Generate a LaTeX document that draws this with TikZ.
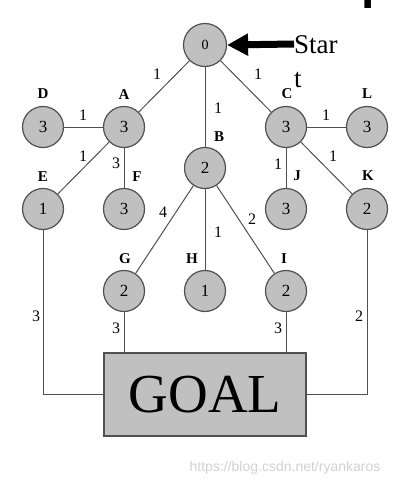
\documentclass[tikz,border=0pt]{standalone}
\usepackage{fontspec}
\setmainfont{Liberation Serif}
\newfontfamily\wmfont{Liberation Sans}
\usetikzlibrary{arrows.meta}
\definecolor{nodefill}{HTML}{C0C0C0}
\definecolor{edgecol}{HTML}{505050}
\begin{document}
\begin{tikzpicture}[x=1pt,y=-1pt,
  state/.style={circle,draw=edgecol,line width=1.2pt,fill=nodefill,minimum size=41pt,inner sep=0pt,font=\fontsize{17}{17}\selectfont},
  startstate/.style={state,minimum size=43pt,font=\fontsize{14}{14}\selectfont},
  lbl/.style={font=\fontsize{15}{15}\selectfont\bfseries,inner sep=0pt},
  wt/.style={font=\fontsize{16}{16}\selectfont,inner sep=0pt},
  edge/.style={draw=edgecol,line width=1pt},
  goalbox/.style={draw=edgecol,line width=1.3pt,fill=nodefill,minimum width=202pt,minimum height=83pt,inner sep=0pt,font=\fontsize{55}{55}\selectfont}]
\useasboundingbox (0,0) rectangle (401,487);
% cut-off title
\begin{scope}
\clip (0,0) rectangle (401,12);
\node[anchor=base west,inner sep=0pt,font=\wmfont\fontsize{48}{48}\selectfont\bfseries] (title) at (127,-1) {Two Example};
\end{scope}
% nodes
\node[startstate] (S) at (205,45) {0};
\node[state] (A) at (124,127) {3};
\node[state] (D) at (43,127) {3};
\node[state] (C) at (286,127) {3};
\node[state] (L) at (367,127) {3};
\node[state] (B) at (205,168) {2};
\node[state] (E) at (43,209) {1};
\node[state] (F) at (124,209) {3};
\node[state] (J) at (286,209) {3};
\node[state] (K) at (367,209) {2};
\node[state] (G) at (124,291) {2};
\node[state] (H) at (205,291) {1};
\node[state] (I) at (286,291) {2};
\node[goalbox] (goal) at (205,394.5) {GOAL};
% letters
\node[lbl] (lD) at (43,94) {D};
\node[lbl] (lA) at (124,95) {A};
\node[lbl] (lC) at (287,94) {C};
\node[lbl] (lL) at (367,94) {L};
\node[lbl] (lB) at (219,137) {B};
\node[lbl] (lE) at (43,177) {E};
\node[lbl] (lF) at (137,177) {F};
\node[lbl] (lJ) at (297,176) {J};
\node[lbl] (lK) at (368,176) {K};
\node[lbl] (lG) at (125,259) {G};
\node[lbl] (lH) at (192,259) {H};
\node[lbl] (lI) at (284,259) {I};
% edges
\draw[edge] (S) -- (A);
\draw[edge] (S) -- (B);
\draw[edge] (S) -- (C);
\draw[edge] (D) -- (A);
\draw[edge] (A) -- (E);
\draw[edge] (A) -- (F);
\draw[edge] (C) -- (L);
\draw[edge] (C) -- (J);
\draw[edge] (C) -- (K);
\draw[edge] (B) -- (G);
\draw[edge] (B) -- (H);
\draw[edge] (B) -- (I);
\draw[edge] (E) |- (goal.west);
\draw[edge] (K) |- (goal.east);
\draw[edge] (G) -- (G |- goal.north);
\draw[edge] (I) -- (I |- goal.north);
% weights
\node[wt] (w1) at (157,74) {1};
\node[wt] (w2) at (258,74) {1};
\node[wt] (w3) at (218,108) {1};
\node[wt] (w4) at (83,115) {1};
\node[wt] (w5) at (83,156) {1};
\node[wt] (w6) at (116,163) {3};
\node[wt] (w7) at (326,115) {1};
\node[wt] (w8) at (278,164) {1};
\node[wt] (w9) at (333,156) {1};
\node[wt] (w10) at (163,212) {4};
\node[wt] (w11) at (218,232) {1};
\node[wt] (w12) at (252,219) {2};
\node[wt] (w13) at (36,316) {3};
\node[wt] (w14) at (116,328) {3};
\node[wt] (w15) at (278,328) {3};
\node[wt] (w16) at (359,316) {2};
% start arrow
\coordinate (arrtail) at (294,44);
\draw[line width=7pt,-{Triangle[length=21pt,width=21pt]}] (arrtail) -- (S.east);
\node[anchor=base west,inner sep=0pt,font=\fontsize{27}{27}\selectfont] (star) at (294,53) {Star};
\node[anchor=base west,inner sep=0pt,font=\fontsize{27}{27}\selectfont] (tt) at (294,87) {t};
% watermark
\node[inner sep=0pt,text=black!18,font=\wmfont\fontsize{14}{14}\selectfont] (wm) at (285,468) {https://blog.csdn.net/ryankaros};
\end{tikzpicture}
\end{document}
